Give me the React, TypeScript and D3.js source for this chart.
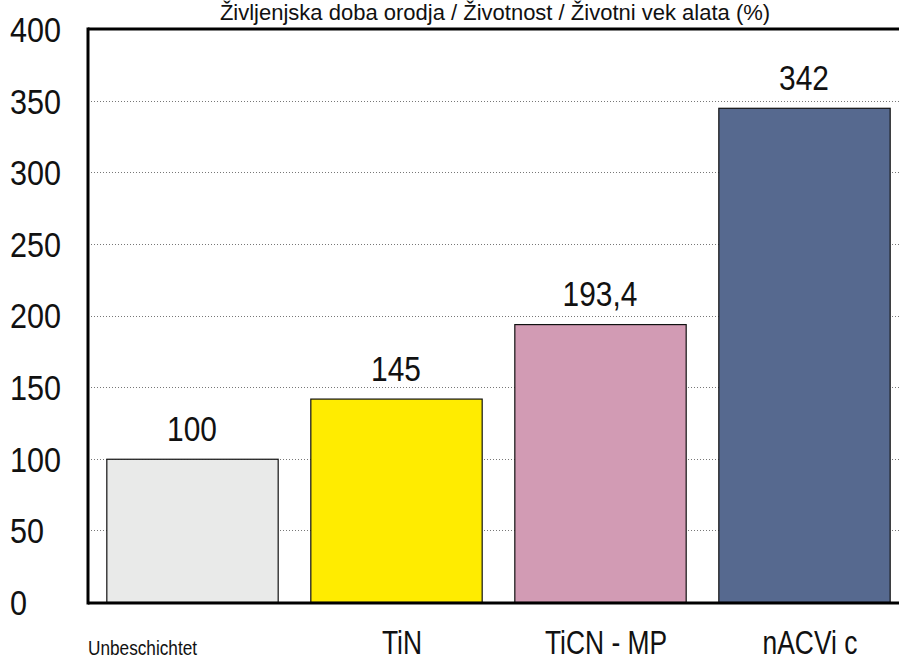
import React, { useRef, useEffect } from 'react';
import * as d3 from 'd3';

const categories = ['Unbeschichtet', 'TiN', 'TiCN - MP', 'nACVi c'];
const values = [100, 142, 194, 345];
const valueLabels = ['100', '145', '193,4', '342'];
const colors = ['#e9eae9', '#ffec00', '#d29bb4', '#56698f'];
const yTicks = [0, 50, 100, 150, 200, 250, 300, 350, 400];
const title = 'Življenjska doba orodja / Životnost / Životni vek alata (%)';

const W = 899;
const H = 662;
const font = '"Liberation Sans", Arial, sans-serif';

const App: React.FC = () => {
  const svgRef = useRef<SVGSVGElement | null>(null);

  useEffect(() => {
    const svg = d3.select(svgRef.current);
    svg.selectAll('*').remove();

    const left = 88;
    const top = 29;
    const bottom = 602;

    const x = d3.scaleBand<string>()
      .domain(categories)
      .range([90, 906])
      .paddingInner(0.16)
      .paddingOuter(0.08);

    const y = d3.scaleLinear().domain([0, 400]).range([bottom, top]);

    svg.append('rect').attr('width', W).attr('height', H).attr('fill', '#fff');

    // title
    svg.append('text')
      .attr('x', 495)
      .attr('y', 20)
      .attr('text-anchor', 'middle')
      .style('font-family', font)
      .style('font-size', '22px')
      .attr('fill', '#111')
      .text(title);

    // dotted gridlines
    svg.append('g')
      .selectAll('line')
      .data(yTicks.filter(d => d > 0 && d < 400))
      .join('line')
      .attr('x1', left)
      .attr('x2', W)
      .attr('y1', d => Math.round(y(d)) + 0.5)
      .attr('y2', d => Math.round(y(d)) + 0.5)
      .attr('stroke', '#777')
      .attr('stroke-width', 1)
      .attr('stroke-dasharray', '1,2');

    // bars
    svg.append('g')
      .selectAll('rect')
      .data(categories)
      .join('rect')
      .attr('x', d => x(d)! + 0.5)
      .attr('y', (d, i) => y(values[i]) + 0.5)
      .attr('width', x.bandwidth())
      .attr('height', (d, i) => bottom - y(values[i]))
      .attr('fill', (d, i) => colors[i])
      .attr('stroke', '#111')
      .attr('stroke-width', 1.2);

    // value labels (condensed)
    svg.append('g')
      .selectAll('text')
      .data(categories)
      .join('text')
      .attr('transform', (d, i) =>
        `translate(${x(d)! + x.bandwidth() / 2},${y(values[i]) - 18}) scale(0.83,1)`)
      .attr('text-anchor', 'middle')
      .style('font-family', font)
      .style('font-size', '36px')
      .attr('fill', '#111')
      .text((d, i) => valueLabels[i]);

    // frame
    svg.append('line')
      .attr('x1', left).attr('x2', W)
      .attr('y1', top).attr('y2', top)
      .attr('stroke', '#000').attr('stroke-width', 3);
    svg.append('line')
      .attr('x1', left).attr('x2', W)
      .attr('y1', bottom + 1).attr('y2', bottom + 1)
      .attr('stroke', '#000').attr('stroke-width', 3);
    svg.append('line')
      .attr('x1', left).attr('x2', left)
      .attr('y1', top - 1.5).attr('y2', bottom + 2.5)
      .attr('stroke', '#000').attr('stroke-width', 3);

    // y tick labels
    svg.append('g')
      .selectAll('text')
      .data(yTicks)
      .join('text')
      .attr('transform', d => `translate(10,${y(d)}) scale(0.85,1)`)
      .attr('dy', '0.36em')
      .style('font-family', font)
      .style('font-size', '36px')
      .attr('fill', '#111')
      .text(d => String(d));

    // x category labels
    svg.append('g')
      .selectAll('text')
      .data(categories)
      .join('text')
      .attr('transform', (d, i) =>
        i === 0
          ? `translate(${left},655) scale(0.82,1)`
          : `translate(${x(d)! + x.bandwidth() / 2 + 6},654) scale(0.8,1)`)
      .attr('text-anchor', (d, i) => (i === 0 ? 'start' : 'middle'))
      .style('font-family', font)
      .style('font-size', (d, i) => (i === 0 ? '21px' : '33px'))
      .attr('fill', '#111')
      .text(d => d);
  }, []);

  return (
    <svg
      ref={svgRef}
      width={W}
      height={H}
      style={{ position: 'absolute', left: 0, top: 0, display: 'block' }}
    />
  );
};

export default App;
